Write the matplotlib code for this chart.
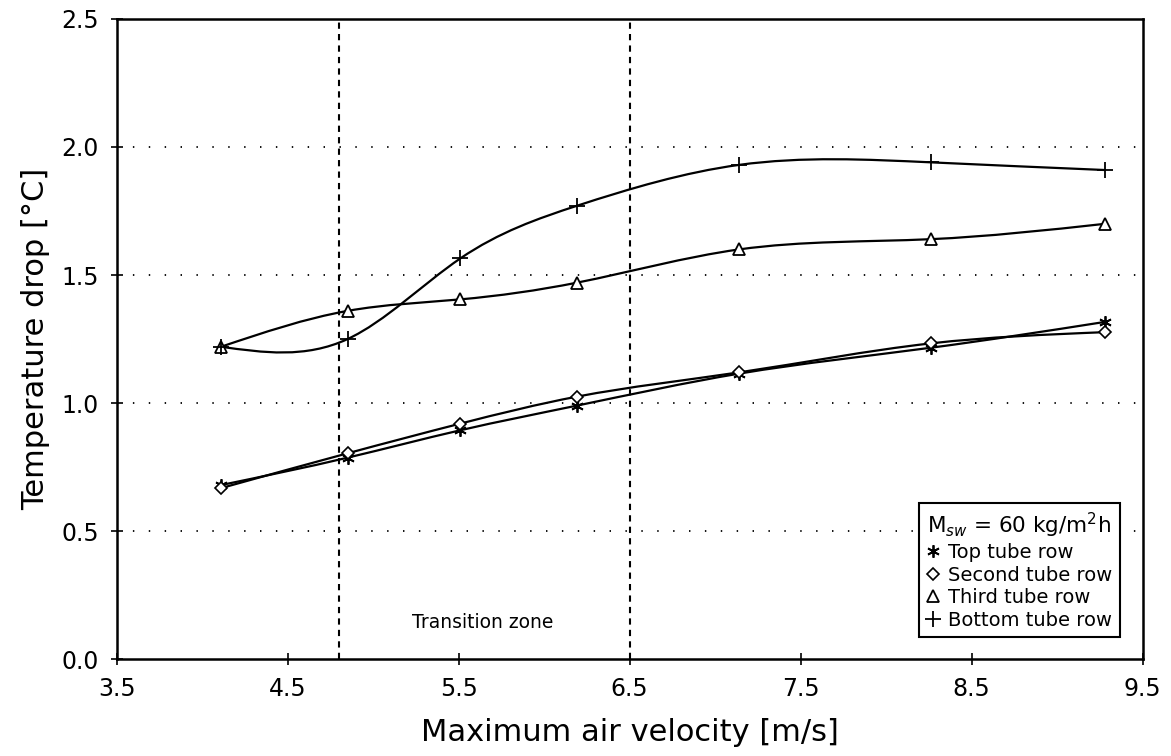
import numpy as np
import matplotlib
matplotlib.use("Agg")
import matplotlib.pyplot as plt
from matplotlib.path import Path
from matplotlib.patches import PathPatch
from matplotlib.lines import Line2D

velocity = [4.11, 4.85, 5.51, 6.19, 7.14, 8.26, 9.28]
top_row = [0.68, 0.787, 0.894, 0.99, 1.115, 1.216, 1.317]
second_row = [0.668, 0.804, 0.92, 1.025, 1.12, 1.233, 1.277]
third_row = [1.22, 1.36, 1.405, 1.47, 1.60, 1.64, 1.70]
bottom_row = [1.22, 1.25, 1.565, 1.77, 1.93, 1.94, 1.91]

series_names = ["Top tube row", "Second tube row", "Third tube row", "Bottom tube row"]
zone_bounds = [4.8, 6.5]
xticks = [3.5, 4.5, 5.5, 6.5, 7.5, 8.5, 9.5]
yticks = [0.0, 0.5, 1.0, 1.5, 2.0, 2.5]
grid_levels = [0.5, 1.0, 1.5, 2.0]


def spline_path(x, y):
    """natural cubic spline through the points, drawn as bezier segments"""
    x = np.asarray(x, float)
    y = np.asarray(y, float)
    n = len(x)
    h = np.diff(x)
    A = np.zeros((n, n))
    r = np.zeros(n)
    A[0, 0] = A[-1, -1] = 1.0
    for i in range(1, n - 1):
        A[i, i - 1] = h[i - 1]
        A[i, i] = 2 * (h[i - 1] + h[i])
        A[i, i + 1] = h[i]
        r[i] = 6 * ((y[i + 1] - y[i]) / h[i] - (y[i] - y[i - 1]) / h[i - 1])
    M = np.linalg.solve(A, r)
    m = np.zeros(n)
    for i in range(n - 1):
        m[i] = (y[i + 1] - y[i]) / h[i] - h[i] * (2 * M[i] + M[i + 1]) / 6
    m[-1] = (y[-1] - y[-2]) / h[-1] + h[-1] * (M[-2] + 2 * M[-1]) / 6
    verts = [(x[0], y[0])]
    codes = [Path.MOVETO]
    for i in range(n - 1):
        d = h[i] / 3
        verts += [(x[i] + d, y[i] + d * m[i]),
                  (x[i + 1] - d, y[i + 1] - d * m[i + 1]),
                  (x[i + 1], y[i + 1])]
        codes += [Path.CURVE4] * 3
    return Path(verts, codes)


plt.rcParams['font.family'] = 'DejaVu Sans'

fig = plt.figure(figsize=(11.71, 7.56), dpi=100)
ax = fig.add_axes([0.0997, 0.128, 0.876, 0.847])

styles = [
    dict(marker=(6, 2, 0), ms=9, mew=1.3),
    dict(marker='D', ms=6, mew=1.2, mfc='white'),
    dict(marker='^', ms=8, mew=1.3, mfc='white'),
    dict(marker='+', ms=11, mew=1.3),
]
data = [top_row, second_row, third_row, bottom_row]

for vals, st in zip(data, styles):
    ax.add_patch(PathPatch(spline_path(velocity, vals), facecolor='none',
                           edgecolor='black', lw=1.6, zorder=2))
    ax.plot(velocity, vals, ls='none', color='black', mec='black', zorder=3, **st)

for g in grid_levels:
    ax.axhline(g, color='black', lw=1.3, ls=(0, (0.8, 8)), zorder=1)
for xb in zone_bounds:
    ax.axvline(xb, color='black', lw=1.5, ls=(0, (3, 2.5)), zorder=1)

ax.text(5.64, 0.145, "Transition zone", ha='center', va='center', fontsize=13.5)

ax.set_xlim(3.5, 9.5)
ax.set_ylim(0.0, 2.5)
ax.set_xticks(xticks)
ax.set_xticklabels(["%.1f" % t for t in xticks])
ax.set_yticks(yticks)
ax.set_yticklabels(["%.1f" % t for t in yticks])
ax.tick_params(direction='inout', length=8, width=1.2, labelsize=17, pad=9)
for s in ax.spines.values():
    s.set_linewidth(1.8)

ax.set_xlabel("Maximum air velocity [m/s]", fontsize=22, labelpad=12)
ax.set_ylabel("Temperature drop [°C]", fontsize=22, labelpad=8)

handles = [Line2D([], [], ls='none', color='black', mec='black', **st) for st in styles]
leg = ax.legend(handles, series_names, title=r"M$_{sw}$ = 60 kg/m$^2$h",
                loc='lower right', bbox_to_anchor=(0.978, 0.034),
                fontsize=14, title_fontsize=15.5, frameon=True, fancybox=False,
                handlelength=0.7, handletextpad=0.4, labelspacing=0.18,
                borderpad=0.4, borderaxespad=0)
leg.get_frame().set_edgecolor('black')
leg.get_frame().set_linewidth(1.5)
leg.get_frame().set_alpha(1)

fig.savefig("out.png", dpi=100)
